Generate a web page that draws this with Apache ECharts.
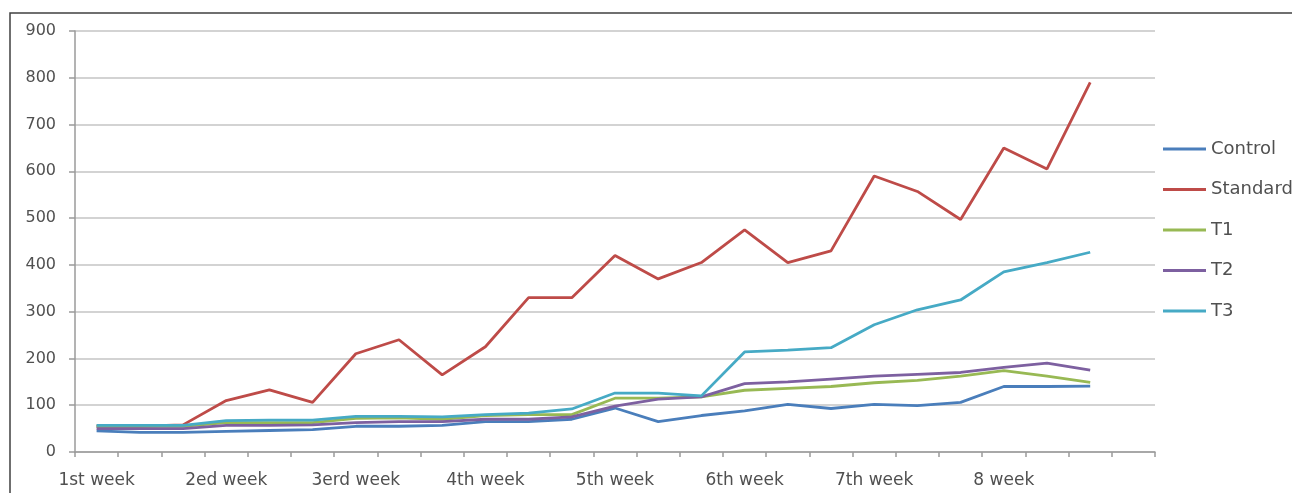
<!DOCTYPE html>
<html><head><meta charset="utf-8">
<script src="https://cdn.jsdelivr.net/npm/echarts@6/dist/echarts.min.js"></script>
<style>html,body{margin:0;padding:0;background:#fff}#c{width:1292px;height:493px}</style>
</head><body><div id="c"></div>
<script>
const weekLabels = ['1st week','2ed week','3erd week','4th week','5th week','6th week','7th week','8 week'];
const pointsPerWeek = 3;
const categoryCount = 25;
const control  = [45, 42, 42, 44, 46, 48, 55, 55, 57, 65, 65, 70, 94, 65, 78, 88, 102, 93, 102, 99, 106, 140, 140, 141];
const standard = [55, 55, 58, 110, 133, 106, 210, 240, 165, 225, 330, 330, 420, 370, 405, 475, 405, 430, 590, 557, 497, 650, 605, 790];
const t1       = [55, 55, 55, 63, 63, 63, 72, 73, 70, 78, 80, 80, 115, 115, 118, 132, 136, 140, 148, 153, 162, 174, 162, 149];
const t2       = [50, 50, 50, 57, 57, 58, 63, 65, 65, 70, 70, 75, 98, 113, 118, 146, 150, 156, 162, 166, 170, 181, 190, 175];
const t3       = [57, 57, 57, 67, 68, 68, 76, 76, 75, 80, 83, 92, 126, 126, 120, 214, 218, 223, 272, 304, 325, 385, 405, 427];
const yTicks = [0,100,200,300,400,500,600,700,800,900];

const categories = [];
for (let i = 0; i < categoryCount; i++) {
  categories.push(i % pointsPerWeek === 0 && weekLabels[i / pointsPerWeek] ? weekLabels[i / pointsPerWeek] : ' '.repeat(i + 1));
}
const names = ['Control','Standard','T1','T2','T3'];
const datas = [control, standard, t1, t2, t3];
const colors = ['#4A7EBB','#BE4B48','#98B954','#7D60A0','#46AAC5'];
const font = 'DejaVu Sans';

const chart = echarts.init(document.getElementById('c'), null, {renderer:'canvas'});
chart.setOption({
  animation: false,
  backgroundColor: '#fff',
  graphic: [{type:'rect', shape:{x:10,y:13,width:1300,height:500}, style:{fill:'none', stroke:'#404040', lineWidth:1.5}, silent:true}],
  grid: {left: 75, right: 137, top: 31, bottom: 41},
  legend: {
    orient: 'vertical', left: 1163, top: 139, padding: 0,
    icon: 'rect', itemWidth: 43, itemHeight: 3, itemGap: 20.5,
    data: names,
    textStyle: {fontFamily: font, fontSize: 18, lineHeight: 20, color: '#505050'}
  },
  xAxis: {
    type: 'category', data: categories, boundaryGap: true,
    axisLine: {lineStyle: {color: '#9a9a9a', width: 1.5}},
    axisTick: {show: true, interval: 0, length: 5, lineStyle: {color: '#9a9a9a', width: 1.5}},
    axisLabel: {interval: 0, margin: 20, fontFamily: font, fontSize: 17, color: '#505050'},
    splitLine: {show: false}
  },
  yAxis: {
    type: 'value', min: yTicks[0], max: yTicks[yTicks.length-1], interval: 100,
    axisLine: {show: true, lineStyle: {color: '#9a9a9a', width: 1.5}},
    axisTick: {show: true, length: 6, lineStyle: {color: '#9a9a9a', width: 1.5}},
    axisLabel: {margin: 19, fontFamily: font, fontSize: 16, color: '#505050'},
    splitLine: {lineStyle: {color: '#c4c4c4', width: 1.5}}
  },
  series: names.map((n, k) => ({
    name: n, type: 'line', data: datas[k], symbol: 'none', showSymbol: false,
    lineStyle: {color: colors[k], width: 2.8}, itemStyle: {color: colors[k]}
  }))
});
</script></body></html>
